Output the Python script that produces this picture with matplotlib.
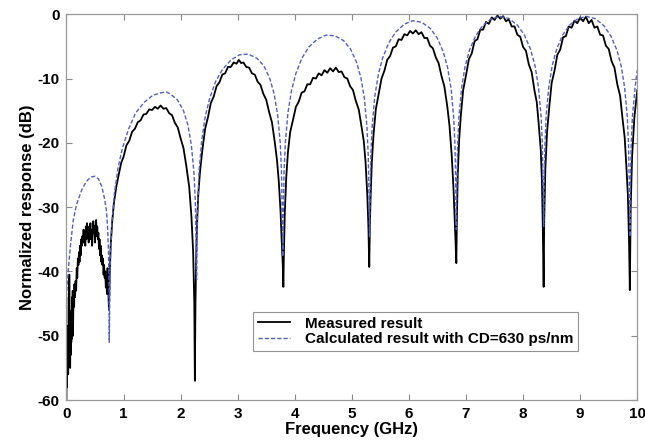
import matplotlib.pyplot as plt

# Calculated result (CD = 630 ps/nm)
calc_freq = [0.0, 0.03, 0.07, 0.12, 0.18, 0.27, 0.33, 0.38, 0.44, 0.5, 0.56, 0.62, 0.67, 0.7, 0.72, 0.735, 0.745, 0.75,
             0.758, 0.773, 0.796, 0.842, 0.903, 0.98, 1.087, 1.209, 1.362, 1.515, 1.668, 1.75, 1.821, 1.943, 2.051, 2.127, 2.188, 2.234, 2.257, 2.272, 2.28,
             2.288, 2.303, 2.325, 2.371, 2.431, 2.507, 2.612, 2.733, 2.884, 3.035, 3.186, 3.337, 3.458, 3.564, 3.639, 3.699, 3.745, 3.767, 3.782, 3.79,
             3.798, 3.813, 3.836, 3.881, 3.942, 4.018, 4.124, 4.246, 4.398, 4.55, 4.702, 4.854, 4.976, 5.082, 5.158, 5.219, 5.264, 5.287, 5.302, 5.31,
             5.318, 5.333, 5.356, 5.401, 5.462, 5.538, 5.644, 5.766, 5.918, 6.07, 6.222, 6.374, 6.496, 6.602, 6.678, 6.739, 6.784, 6.807, 6.822, 6.83,
             6.838, 6.853, 6.876, 6.922, 6.983, 7.06, 7.167, 7.289, 7.442, 7.595, 7.748, 7.901, 8.023, 8.13, 8.207, 8.268, 8.314, 8.337, 8.352, 8.36,
             8.368, 8.383, 8.405, 8.451, 8.511, 8.587, 8.692, 8.813, 8.964, 9.115, 9.266, 9.417, 9.538, 9.644, 9.719, 9.779, 9.825, 9.847, 9.862, 9.87,
             9.878, 9.893, 9.915, 9.96, 10.0]
calc_db = [-44, -40, -36, -32, -29.5, -27.3, -26.3, -25.7, -25.3, -25.2, -25.6, -26.8, -28.8, -30.5, -33, -36.5, -41, -51,
           -44.6, -37.3, -32.6, -27.75, -23.95, -20.85, -17.9, -15.4, -13.7, -12.6, -12.2, -12.1, -12.4, -13.3, -15.0, -17.2, -20.35, -24.6, -29.0, -36.1, -41.3,
           -36.0, -28.8, -24.2, -19.55, -15.95, -13.15, -10.5, -8.6, -7.1, -6.3, -6.2, -6.85, -8.0, -10.05, -12.4, -15.6, -19.95, -24.4, -31.6, -37.7,
           -31.55, -24.35, -19.8, -15.3, -11.9, -9.25, -6.85, -5.1, -3.85, -3.25, -3.35, -4.1, -5.4, -7.45, -9.85, -13.05, -17.45, -21.9, -29.1, -34.6,
           -29.0, -21.9, -17.35, -12.85, -9.45, -6.85, -4.5, -2.8, -1.55, -1.0, -1.25, -2.2, -3.7, -5.85, -8.3, -11.6, -16.0, -20.5, -27.7, -33.5,
           -27.7, -20.5, -16.0, -11.5, -8.15, -5.6, -3.4, -1.8, -0.7, -0.35, -0.65, -1.7, -3.25, -5.45, -7.95, -11.25, -15.7, -20.2, -27.4, -33.0,
           -27.4, -20.2, -15.7, -11.25, -7.95, -5.45, -3.25, -1.7, -0.65, -0.35, -0.7, -1.8, -3.4, -5.6, -8.1, -11.4, -15.9, -20.4, -27.6, -34.6,
           -27.6, -20.5, -16.0, -11.5, -8.7]

meas_freq = [0.0, 0.005, 0.01, 0.015, 0.02, 0.025, 0.03, 0.035, 0.04, 0.045, 0.05, 0.055, 0.06, 0.065, 0.07, 0.075, 0.08, 0.085, 0.09, 0.095,
             0.1, 0.105, 0.11, 0.115, 0.12, 0.13, 0.135, 0.14, 0.15, 0.16, 0.17, 0.18, 0.19, 0.2, 0.21, 0.22, 0.23, 0.24, 0.25, 0.26, 0.27, 0.28, 0.29,
             0.3, 0.31, 0.32, 0.33, 0.34, 0.35, 0.36, 0.37, 0.38, 0.39, 0.4, 0.41, 0.42, 0.43, 0.44, 0.45, 0.46, 0.47, 0.48, 0.49, 0.5, 0.51, 0.52,
             0.53, 0.54, 0.55, 0.56, 0.57, 0.58, 0.59, 0.6, 0.61, 0.62, 0.63, 0.64, 0.65, 0.66, 0.67, 0.68, 0.69, 0.7, 0.71, 0.72, 0.73,
             0.745, 0.76, 0.775, 0.8, 0.83, 0.87, 0.91, 0.96, 1.0, 1.05, 1.1, 1.15, 1.2, 1.25, 1.3, 1.35, 1.4, 1.45, 1.5, 1.55, 1.6, 1.65, 1.7, 1.75,
             1.8, 1.85, 1.9, 1.95, 2.0, 2.05, 2.1, 2.15, 2.19, 2.22, 2.24, 2.25, 2.26,
             2.275, 2.29, 2.31, 2.34, 2.38, 2.43, 2.48, 2.53, 2.58, 2.63, 2.68, 2.73, 2.78, 2.83, 2.88, 2.93, 2.98, 3.02, 3.06, 3.1, 3.15, 3.2,
             3.25, 3.3, 3.35, 3.4, 3.45, 3.5, 3.55, 3.6, 3.65, 3.69, 3.72, 3.75, 3.77, 3.79, 3.8, 3.81,
             3.825, 3.85, 3.88, 3.92, 3.97, 4.02, 4.07, 4.12, 4.17, 4.22, 4.27, 4.32, 4.37, 4.42, 4.47, 4.52, 4.57, 4.62, 4.67, 4.72, 4.77, 4.82,
             4.87, 4.92, 4.97, 5.02, 5.07, 5.12, 5.17, 5.21, 5.24, 5.27, 5.29, 5.305, 5.315,
             5.33, 5.35, 5.38, 5.42, 5.47, 5.52, 5.57, 5.62, 5.67, 5.72, 5.77, 5.82, 5.87, 5.92, 5.97, 6.02, 6.07, 6.12, 6.17, 6.22, 6.27, 6.32,
             6.37, 6.42, 6.47, 6.52, 6.57, 6.62, 6.67, 6.71, 6.75, 6.78, 6.8, 6.815, 6.83, 6.84,
             6.855, 6.88, 6.91, 6.95, 7.0, 7.05, 7.1, 7.15, 7.2, 7.25, 7.3, 7.35, 7.4, 7.45, 7.5, 7.55, 7.6, 7.65, 7.7, 7.75, 7.8, 7.85, 7.9,
             7.95, 8.0, 8.05, 8.1, 8.15, 8.2, 8.24, 8.28, 8.31, 8.33, 8.345, 8.36, 8.37,
             8.39, 8.42, 8.46, 8.5, 8.55, 8.6, 8.65, 8.7, 8.75, 8.8, 8.85, 8.9, 8.95, 9.0, 9.05, 9.1, 9.15, 9.2, 9.25, 9.3, 9.35, 9.4, 9.45,
             9.5, 9.55, 9.6, 9.65, 9.7, 9.74, 9.78, 9.81, 9.835, 9.855, 9.87, 9.885, 9.91, 9.95, 10.0]
meas_db = [-60, -52, -58, -49, -54, -48.5, -56, -50, -44, -52, -40.5, -49, -47, -55, -50, -53, -48, -51, -46, -50.5,
           -44, -48, -43, -50, -46, -43.5, -45.5, -42, -44, -41.5, -43, -39.5, -41, -38, -39, -37, -38.5, -36, -37.5, -35, -36, -34.5, -35.5,
           -33.5, -35.5, -34, -36, -33, -35, -32.5, -34.5, -33.5, -35.5, -33, -34, -32.5, -35, -33.5, -36, -33.8, -32.2, -34, -33, -35.5, -33, -32,
           -34.5, -33, -35, -34, -36.5, -35, -37.5, -36, -38.5, -37.5, -39, -38, -40.5, -39, -41, -40, -42.5, -41, -43.5, -39.5, -42,
           -46, -40, -36, -32.5, -29.5, -27, -25.2, -23.1, -22.2, -20.4, -19.7, -18.3, -17.8, -16.8, -16.5, -15.6, -15.5, -14.8, -14.9, -14.4, -14.7, -14.2, -14.7, -14.6,
           -15.4, -15.7, -16.9, -17.6, -19.3, -20.8, -23.6, -26.8, -31.5, -37, -45, -57, -45,
           -37, -32, -28, -24.5, -21.2, -17.8, -16.0, -13.8, -12.8, -11.2, -10.6, -9.4, -9.2, -8.2, -8.2, -7.5, -7.7, -7.1, -7.6, -7.5, -8.2, -8.3,
           -9.2, -9.4, -10.5, -11.0, -12.4, -13.3, -15.2, -16.8, -19.9, -22.8, -26, -30.5, -35, -39, -42.4, -37,
           -31, -25.5, -21.5, -18.3, -16.4, -14.4, -13.6, -12.2, -12.0, -10.9, -10.9, -9.9, -10.0, -9.2, -9.5, -8.7, -9.1, -8.4, -8.9, -8.3, -9.0, -8.9,
           -9.8, -10.0, -11.2, -11.8, -13.5, -14.8, -17.5, -19.8, -23, -28, -33, -39.3, -33,
           -28, -23, -18.7, -14.8, -12.4, -10.0, -8.8, -7.1, -6.5, -5.2, -5.0, -3.9, -4.0, -3.1, -3.3, -2.6, -3.0, -2.5, -3.1, -2.8, -3.7, -3.7,
           -4.9, -5.3, -6.7, -7.6, -9.6, -11.2, -14.2, -17.3, -22, -27, -31.5, -35, -38.7, -32,
           -25, -19.5, -15.7, -11.8, -9.5, -7.0, -6.1, -4.2, -3.9, -2.4, -2.4, -1.2, -1.5, -0.5, -0.9, -0.2, -0.7, -0.3, -1.1, -0.8, -1.9, -1.9, -3.2,
           -3.5, -5.1, -5.7, -7.8, -9.0, -11.9, -13.7, -17.8, -21.2, -26, -33, -42.4, -32,
           -24, -18.3, -14.3, -10.7, -8.8, -6.3, -5.5, -3.6, -3.4, -1.9, -2.1, -1.0, -1.4, -0.5, -1.1, -0.4, -1.4, -0.9, -2.1, -1.9, -3.2, -3.3, -4.9,
           -5.4, -7.3, -8.3, -10.9, -12.7, -16.1, -19.2, -23.8, -28, -35, -42.9, -30, -22, -16, -11.8]

x_ticks = [0, 1, 2, 3, 4, 5, 6, 7, 8, 9, 10]
y_ticks = [-60, -50, -40, -30, -20, -10, 0]

plt.rcParams['font.family'] = ['Liberation Sans', 'DejaVu Sans']
plt.rcParams['font.weight'] = 'bold'
plt.rcParams['axes.unicode_minus'] = False

fig = plt.figure(figsize=(6.45, 4.44), dpi=100)
ax = fig.add_axes([0.103, 0.099, 0.885, 0.869])

ax.plot(meas_freq, meas_db, color='black', linewidth=1.3, label='Measured result')
ax.plot(calc_freq, calc_db, color='#4f60c4', linewidth=1.0, linestyle=(0, (3, 1.5)),
        label='Calculated result with CD=630 ps/nm')

ax.set_xlim(0, 10)
ax.set_ylim(-60, 0)
ax.set_xticks(x_ticks)
ax.set_yticks(y_ticks)
ax.tick_params(direction='in', top=True, right=True, length=4, width=0.8, color='#888888',
               labelsize=11, pad=5)
for s in ax.spines.values():
    s.set_color('#999999')
    s.set_linewidth(0.9)

ax.set_xlabel('Frequency (GHz)', fontsize=12, fontweight='bold', labelpad=1)
ax.set_ylabel('Normalized response (dB)', fontsize=12, fontweight='bold', labelpad=2)

leg = ax.legend(loc='upper left', bbox_to_anchor=(0.327, 0.228), frameon=True,
                prop={'size': 11, 'weight': 'bold'},
                fancybox=False, edgecolor='#777777', handlelength=2.1, borderpad=0.3,
                labelspacing=0.1, handletextpad=1.0, borderaxespad=0)
leg.get_frame().set_linewidth(0.8)

fig.savefig('out.png', dpi=100)
